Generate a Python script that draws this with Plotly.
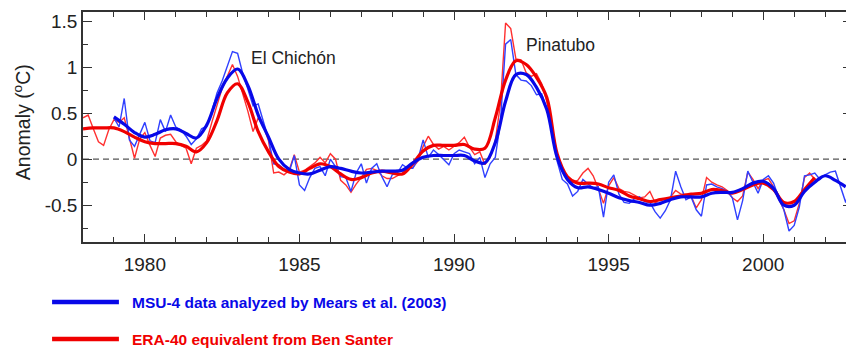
import numpy as np
import plotly.graph_objects as go

# ---------------- data ----------------
# ERA-40 (red) series, bimonthly samples from 1978.0
red_start = 1978.0
red_thin = [
    0.45, 0.48, 0.33, 0.19, 0.15, 0.32,      # 1978
    0.43, 0.40, 0.45, 0.24, 0.01, 0.22,      # 1979
    0.29, 0.15, 0.03, 0.23, 0.26, 0.27,      # 1980
    0.19, 0.15, 0.12, -0.05, 0.12, 0.15,     # 1981
    0.20, 0.40, 0.60, 0.77, 0.90, 1.03,      # 1982
    0.90, 0.72, 0.52, 0.30, 0.45, 0.36,      # 1983
    0.20, -0.15, -0.14, -0.17, -0.12, 0.05,  # 1984
    -0.14, -0.12, -0.08, -0.04, 0.02, -0.04, # 1985
    0.06, 0.00, -0.23, -0.28, -0.36, -0.27,  # 1986
    -0.20, -0.11, -0.10, -0.12, -0.18, -0.21,# 1987
    -0.21, -0.18, -0.15, -0.10, -0.09, -0.02,# 1988
    0.14, 0.25, 0.16, 0.11, 0.14, 0.10,      # 1989
    0.14, 0.18, 0.24, 0.13, 0.05, 0.08,      # 1990
    -0.06, 0.02, 0.20, 0.60, 1.48, 1.42,     # 1991
    1.09, 1.08, 0.94, 0.90, 0.93, 0.82,      # 1992
    0.63, 0.36, 0.05, -0.13, -0.21, -0.25,   # 1993
    -0.23, -0.15, -0.10, -0.18, -0.32, -0.48,# 1994
    -0.29, -0.20, -0.32, -0.35, -0.36, -0.39,# 1995
    -0.42, -0.41, -0.35, -0.47, -0.49, -0.46,# 1996
    -0.41, -0.34, -0.38, -0.38, -0.40, -0.53,# 1997
    -0.44, -0.20, -0.25, -0.28, -0.30, -0.34,# 1998
    -0.42, -0.46, -0.40, -0.14, -0.22, -0.32,# 1999
    -0.23, -0.21, -0.30, -0.43, -0.55, -0.70,# 2000
    -0.67, -0.48, -0.20, -0.15, -0.22, -0.22,# 2001
]

# MSU-4 (blue) bimonthly samples from 1979.0
blue_start = 1979.0
blue_thin = [
    0.45, 0.35, 0.66, 0.21, 0.14, 0.28,      # 1979
    0.40, 0.20, 0.18, 0.43, 0.30, 0.48,      # 1980
    0.35, 0.32, 0.25, 0.16, 0.22, 0.33,      # 1981
    0.36, 0.52, 0.72, 0.85, 1.00, 1.17,      # 1982
    1.15, 0.93, 0.76, 0.58, 0.60, 0.40,      # 1983
    0.22, -0.05, -0.06, -0.11, -0.14, 0.04,  # 1984
    -0.28, -0.34, -0.20, -0.10, -0.08, -0.18,# 1985
    0.00, -0.08, -0.19, -0.20, -0.35, -0.15, # 1986
    -0.05, -0.26, -0.10, -0.05, -0.19, -0.30,# 1987
    -0.17, -0.15, -0.06, -0.10, -0.10, 0.00, # 1988
    0.21, 0.02, 0.10, 0.05, -0.01, -0.06,    # 1989
    0.06, 0.10, 0.08, 0.06, -0.05, 0.02,     # 1990
    -0.20, -0.05, 0.02, 0.40, 1.25, 1.30,    # 1991
    0.92, 0.86, 0.85, 0.80, 0.70, 0.71,      # 1992
    0.54, 0.32, -0.02, -0.22, -0.27, -0.40,  # 1993
    -0.35, -0.22, -0.27, -0.31, -0.30, -0.63,# 1994
    -0.25, -0.17, -0.38, -0.47, -0.48, -0.43,# 1995
    -0.41, -0.46, -0.47, -0.57, -0.64, -0.56,# 1996
    -0.44, -0.13, -0.30, -0.44, -0.41, -0.55,# 1997
    -0.62, -0.28, -0.27, -0.30, -0.32, -0.35,# 1998
    -0.42, -0.66, -0.45, -0.13, -0.25, -0.37,# 1999
    -0.22, -0.18, -0.26, -0.42, -0.55, -0.78,# 2000
    -0.72, -0.52, -0.18, -0.17, -0.15, -0.22,# 2001
    -0.17, -0.14, -0.13, -0.30, -0.47, -0.25,# 2002
]

# smoothed curves, samples every 4 months
red_smooth = [
    0.33, 0.34, 0.34, 0.34, 0.30, 0.24, 0.19, 0.17, 0.17, 0.17, 0.14, 0.08,
    0.18, 0.42, 0.72, 0.82, 0.62, 0.30, 0.08, -0.08, -0.14, -0.16, -0.10, -0.05,
    -0.08, -0.16, -0.22, -0.20, -0.15, -0.13, -0.15, -0.16, -0.05, 0.09, 0.15, 0.15,
    0.15, 0.16, 0.11, 0.12, 0.45, 0.86, 1.07, 1.03, 0.89, 0.67, 0.06, -0.19,
    -0.26, -0.26, -0.27, -0.31, -0.34, -0.40, -0.43, -0.46, -0.44, -0.42, -0.40, -0.38,
    -0.37, -0.33, -0.34, -0.37, -0.33, -0.28, -0.26, -0.33, -0.47, -0.46, -0.33, -0.20,
]
blue_smooth = [
    0.46, 0.38, 0.29, 0.24, 0.27, 0.32, 0.33, 0.28, 0.23, 0.37, 0.66, 0.88,
    0.98, 0.80, 0.48, 0.24, 0.00, -0.11, -0.15, -0.16, -0.12, -0.08, -0.10, -0.13,
    -0.15, -0.14, -0.13, -0.13, -0.12, -0.04, 0.02, 0.04, 0.04, 0.04, 0.04, -0.02,
    -0.04, 0.18, 0.63, 0.92, 0.92, 0.78, 0.54, 0.02, -0.22, -0.31, -0.30, -0.33,
    -0.37, -0.42, -0.45, -0.47, -0.50, -0.48, -0.44, -0.41, -0.41, -0.41, -0.37, -0.36,
    -0.36, -0.32, -0.26, -0.24, -0.32, -0.50, -0.50, -0.35, -0.25, -0.18, -0.23, -0.30,
]

year_ticks = [1980, 1985, 1990, 1995, 2000]
y_tickvals = [-0.5, 0, 0.5, 1, 1.5]
y_ticktext = ["-0.5", "0", "0.5", "1", "1.5"]
series_names = ["MSU-4 data analyzed by Mears et al. (2003)",
                "ERA-40 equivalent from Ben Santer"]
events = [("El Chichón", 1984.82, 1.095), ("Pinatubo", 1993.45, 1.24)]

# ---------------- derived x values ----------------
red_x = red_start + np.arange(len(red_thin)) / 6.0
blue_x = blue_start + np.arange(len(blue_thin)) / 6.0
red_sx = red_start + np.arange(len(red_smooth)) / 3.0
blue_sx = blue_start + np.arange(len(blue_smooth)) / 3.0

BLUE_THIN = "#3040ff"
BLUE = "#0808e8"
RED_THIN = "#ff3030"
RED = "#f00000"
AX = "#333333"
FONT = "Liberation Sans, Arial, sans-serif"

fig = go.Figure()
fig.add_trace(go.Scatter(x=red_x, y=red_thin, mode="lines",
                         line=dict(color=RED_THIN, width=1.4), hoverinfo="skip"))
fig.add_trace(go.Scatter(x=blue_x, y=blue_thin, mode="lines",
                         line=dict(color=BLUE_THIN, width=1.4), hoverinfo="skip"))
fig.add_trace(go.Scatter(x=red_sx, y=red_smooth, mode="lines",
                         line=dict(color=RED, width=3.2, shape="spline", smoothing=1.0)))
fig.add_trace(go.Scatter(x=blue_sx, y=blue_smooth, mode="lines",
                         line=dict(color=BLUE, width=3.2, shape="spline", smoothing=1.0)))

# zero dashed line
fig.add_shape(type="line", xref="paper", yref="y", x0=0, x1=1, y0=0, y1=0,
              line=dict(color="#555555", width=1.2, dash="6px,4px"), layer="below")

tickfont = dict(family=FONT, size=19, color="#222222")

# the page body adds an 8px offset, so the figure is 8px smaller than the window
fig.update_layout(
    width=846, height=342,
    margin=dict(l=75, r=0, t=4, b=108),
    plot_bgcolor="white", paper_bgcolor="white",
    showlegend=False,
    xaxis=dict(range=[1978, 2002.87], tickmode="array", tickvals=year_ticks,
               ticks="inside", ticklen=8, tickwidth=1.3, tickcolor=AX,
               showline=True, linecolor=AX, linewidth=1.5, mirror="ticks",
               showgrid=False, zeroline=False, tickfont=tickfont,
               ticklabelstandoff=4,
               minor=dict(tickmode="linear", tick0=1978, dtick=1, ticks="inside",
                          ticklen=5, tickwidth=1.2, tickcolor=AX, showgrid=False)),
    yaxis=dict(range=[-0.9, 1.6], tickmode="array", tickvals=y_tickvals,
               ticktext=y_ticktext,
               ticks="inside", ticklen=9, tickwidth=1.3, tickcolor=AX,
               showline=True, linecolor=AX, linewidth=1.5, mirror="ticks",
               showgrid=False, zeroline=False, tickfont=tickfont,
               minor=dict(tickmode="linear", tick0=0, dtick=0.25, ticks="inside",
                          ticklen=5, tickwidth=1.2, tickcolor=AX, showgrid=False)),
)

# y-axis title
fig.add_annotation(text="Anomaly (<sup>o</sup>C)", xref="paper", yref="paper",
                   x=(22 - 83) / 771.0, y=(242 - 122) / 230.0, textangle=-90,
                   xanchor="center", yanchor="middle", showarrow=False,
                   font=dict(family=FONT, size=19.5, color="#222222"))

# event labels
for name, ex, ey in events:
    fig.add_annotation(text=name, x=ex, y=ey, xref="x", yref="y", showarrow=False,
                       font=dict(family=FONT, size=17.5, color="#222222"))

# legend below the plot
for name, col, py in [(series_names[0], BLUE, 302), (series_names[1], RED, 339)]:
    yp = (242 - py) / 230.0
    fig.add_shape(type="line", xref="paper", yref="paper",
                  x0=(52 - 83) / 771.0, x1=(119 - 83) / 771.0, y0=yp, y1=yp,
                  line=dict(color=col, width=4.5))
    fig.add_annotation(text="<b>" + name + "</b>", xref="paper", yref="paper",
                       x=(130 - 83) / 771.0, y=yp - 0.002, xanchor="left",
                       yanchor="middle", showarrow=False,
                       font=dict(family=FONT, size=15.5, color=col))

fig.write_html("out.html")
